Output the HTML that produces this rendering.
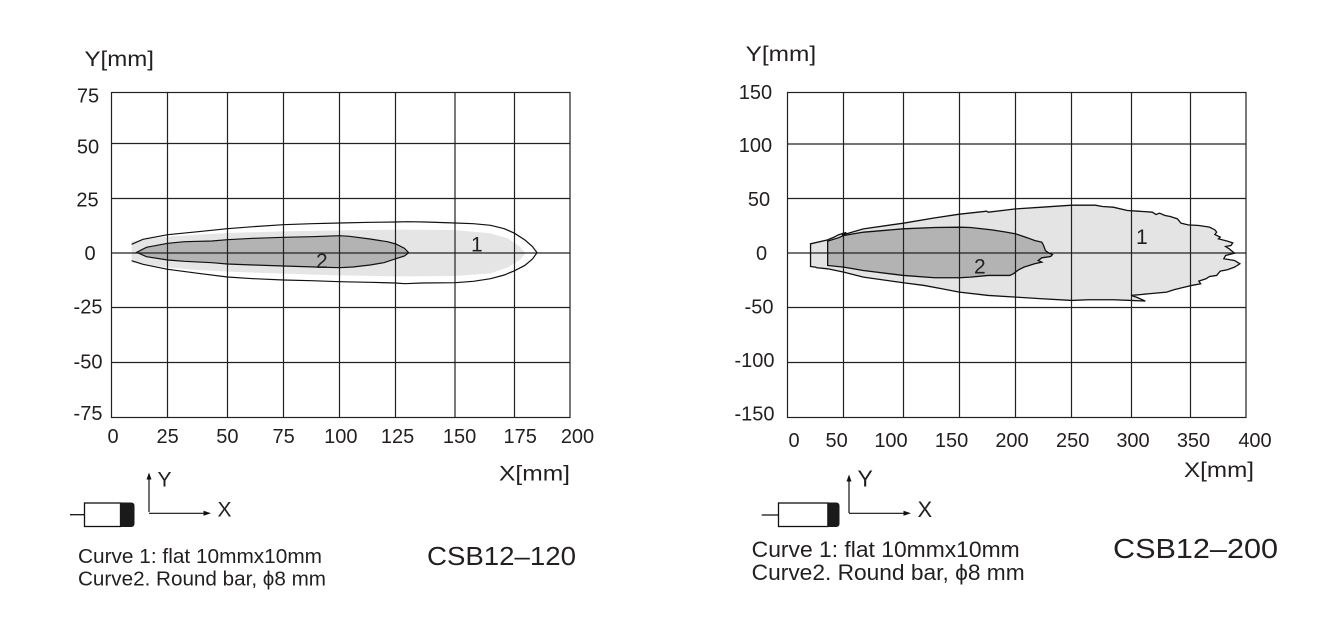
<!DOCTYPE html>
<html><head><meta charset="utf-8">
<style>
html,body{margin:0;padding:0;background:#fff;}
svg{display:block;}
text{font-family:"Liberation Sans",Arial,sans-serif;fill:#231f20;}
</style></head>
<body>
<svg width="1337" height="636" viewBox="0 0 1337 636" xmlns="http://www.w3.org/2000/svg">
<rect width="1337" height="636" fill="#fff"/>

<!-- ================= LEFT CHART ================= -->
<g transform="translate(60.4,40) scale(0.34412,0.33333)">
  <!-- light gray region -->
  <path d="M207,604 L260,596 L312,590 L400,584 L485,579 L648,574 L811,571 L974,569 L1147,570 L1250,580 L1300,595 L1335,620 L1352,640 L1335,660 L1300,682 L1250,700 L1147,708 L974,709 L811,706 L648,701 L485,695 L400,690 L312,682 L260,675 L207,668 Z" fill="#e5e5e5"/>
  <!-- dark region curve 2 -->
  <path d="M222,637 L250,622 L312,610 L360,605 L440,603 L485,599 L560,595 L648,592 L730,590 L811,587 L840,589 L900,597 L950,605 L975,612 L1000,625 L1012,638 L1000,648 L975,656 L940,668 L900,675 L850,681 L811,683 L740,681 L648,678 L560,675 L485,672 L440,668 L360,664 L312,660 L250,650 Z" fill="#b3b3b3"/>
</g>
<!-- left grid -->
<g stroke="#222" stroke-width="1.2" fill="none">
  <rect x="111.5" y="92.5" width="458.5" height="325"/>
  <line x1="167.5" y1="92.5" x2="167.5" y2="417.5"/>
  <line x1="227.5" y1="92.5" x2="227.5" y2="417.5"/>
  <line x1="283.5" y1="92.5" x2="283.5" y2="417.5"/>
  <line x1="339.5" y1="92.5" x2="339.5" y2="417.5"/>
  <line x1="395.5" y1="92.5" x2="395.5" y2="417.5"/>
  <line x1="455" y1="92.5" x2="455" y2="417.5"/>
  <line x1="514.5" y1="92.5" x2="514.5" y2="417.5"/>
  <line x1="111.5" y1="143.5" x2="570" y2="143.5"/>
  <line x1="111.5" y1="198.5" x2="570" y2="198.5"/>
  <line x1="111.5" y1="253" x2="570" y2="253"/>
  <line x1="111.5" y1="307.5" x2="570" y2="307.5"/>
  <line x1="111.5" y1="362.5" x2="570" y2="362.5"/>
</g>
<g transform="translate(60.4,40) scale(0.34412,0.33333)" fill="none" stroke="#111" stroke-width="1.2" vector-effect="non-scaling-stroke">
  <polyline vector-effect="non-scaling-stroke" points="207,613 240,598 312,584 400,575 485,566 560,560 648,554 730,551 811,549 900,547 974,546 1010,545 1060,546 1147,549 1200,551 1250,556 1290,566 1320,580 1350,600 1372,620 1385,638 1372,657 1350,676 1320,692 1290,705 1250,716 1200,724 1147,728 1050,729 1000,731 974,729 900,727 811,725 730,722 648,720 560,716 485,711 400,700 312,688 240,673 207,662"/>
  <path vector-effect="non-scaling-stroke" d="M222,637 L250,622 L312,610 L360,605 L440,603 L485,599 L560,595 L648,592 L730,590 L811,587 L840,589 L900,597 L950,605 L975,612 L1000,625 L1012,638 L1000,648 L975,656 L940,668 L900,675 L850,681 L811,683 L740,681 L648,678 L560,675 L485,672 L440,668 L360,664 L312,660 L250,650 Z"/>
</g>
<text x="471" y="251.7" font-size="21">1</text>
<text x="316" y="268" font-size="21">2</text>

<!-- left axis labels -->
<text x="84.5" y="66" font-size="21" textLength="69.5" lengthAdjust="spacingAndGlyphs">Y[mm]</text>
<g font-size="20" text-anchor="middle">
  <text x="88" y="102.7">75</text>
  <text x="88" y="153.3">50</text>
  <text x="87.5" y="206.7">25</text>
  <text x="90" y="260">0</text>
  <text x="88" y="313.3">-25</text>
  <text x="88" y="368.3">-50</text>
  <text x="88" y="420">-75</text>
  <text x="113" y="443">0</text>
  <text x="167.6" y="443">25</text>
  <text x="227.4" y="443">50</text>
  <text x="283.6" y="443">75</text>
  <text x="340.8" y="443">100</text>
  <text x="397.6" y="443">125</text>
  <text x="459.6" y="443">150</text>
  <text x="520.2" y="443">175</text>
  <text x="577.5" y="443">200</text>
</g>
<text x="499" y="480.3" font-size="21" textLength="71" lengthAdjust="spacingAndGlyphs">X[mm]</text>

<!-- left sensor & axes -->
<line x1="70" y1="514.7" x2="84" y2="514.7" stroke="#111" stroke-width="1.3"/>
<rect x="84.5" y="503" width="36" height="23.5" fill="#fff" stroke="#111" stroke-width="1.3"/>
<path d="M120,502.5 L131,502.5 Q134.5,502.5 134.5,506 L134.5,523.5 Q134.5,527 131,527 L120,527 Z" fill="#1a1a1a"/>
<line x1="149" y1="512" x2="149" y2="478" stroke="#111" stroke-width="1.2"/>
<polygon points="149,472.5 146.5,479.5 151.5,479.5" fill="#111"/>
<line x1="149" y1="513.3" x2="204" y2="513.3" stroke="#111" stroke-width="1.2"/>
<polygon points="211,513.3 203.5,510.8 203.5,515.8" fill="#111"/>
<text x="157.5" y="486.7" font-size="21">Y</text>
<text x="217.5" y="516.7" font-size="21">X</text>
<text x="78" y="563" font-size="20.5" textLength="244" lengthAdjust="spacingAndGlyphs">Curve 1: flat 10mmx10mm</text>
<text x="78" y="585.5" font-size="20.5" textLength="248" lengthAdjust="spacingAndGlyphs">Curve2. Round bar, ϕ8 mm</text>
<text x="427" y="565" font-size="25.5" textLength="149" lengthAdjust="spacingAndGlyphs">CSB12–120</text>

<!-- ================= RIGHT CHART ================= -->
<g transform="translate(720.6,30.7) scale(0.35689,0.333)">
  <path d="M252,640 L300,628 L318,620 L330,613 L345,608 L352,606 L340,614 L400,595 L512,578 L600,562 L669,551 L720,545 L745,542 L750,545 L827,535 L900,530 L984,524 L1050,524 L1070,528 L1100,530 L1140,540 L1170,542 L1210,545 L1220,552 L1230,548 L1245,555 L1260,558 L1280,565 L1290,578 L1310,583 L1340,585 L1370,590 L1385,598 L1390,605 L1385,612 L1400,620 L1395,625 L1420,632 L1435,637 L1430,645 L1415,648 L1425,655 L1440,668 L1415,675 L1410,685 L1440,690 L1455,700 L1440,710 L1420,718 L1400,722 L1390,735 L1370,738 L1360,745 L1340,752 L1345,760 L1320,765 L1300,770 L1270,778 L1250,785 L1200,790 L1150,795 L1165,800 L1190,812 L1150,810 L1100,808 L1030,808 L984,810 L900,805 L827,800 L750,795 L669,785 L620,775 L570,765 L512,757 L400,740 L345,725 L300,715 L270,712 L265,710 L252,708 Z" fill="#e4e4e4"/>
  <path d="M300,632 L330,622 L345,615 L400,605 L512,595 L600,591 L669,590 L700,591 L760,598 L800,605 L827,610 L860,622 L880,630 L900,635 L905,645 L910,660 L920,668 L930,672 L925,678 L900,682 L890,690 L900,695 L880,700 L850,710 L835,718 L820,730 L810,735 L750,735 L700,740 L669,742 L600,742 L512,735 L400,720 L345,710 L300,705 Z" fill="#b3b3b3"/>
</g>
<g stroke="#222" stroke-width="1.2" fill="none">
  <rect x="787.5" y="92.5" width="458.5" height="325"/>
  <line x1="843.5" y1="92.5" x2="843.5" y2="417.5"/>
  <line x1="903.5" y1="92.5" x2="903.5" y2="417.5"/>
  <line x1="959.5" y1="92.5" x2="959.5" y2="417.5"/>
  <line x1="1015.5" y1="92.5" x2="1015.5" y2="417.5"/>
  <line x1="1071.5" y1="92.5" x2="1071.5" y2="417.5"/>
  <line x1="1131.5" y1="92.5" x2="1131.5" y2="417.5"/>
  <line x1="1190.5" y1="92.5" x2="1190.5" y2="417.5"/>
  <line x1="787.5" y1="144" x2="1246" y2="144"/>
  <line x1="787.5" y1="198.5" x2="1246" y2="198.5"/>
  <line x1="787.5" y1="253" x2="1246" y2="253"/>
  <line x1="787.5" y1="307.5" x2="1246" y2="307.5"/>
  <line x1="787.5" y1="362.5" x2="1246" y2="362.5"/>
</g>
<g transform="translate(720.6,30.7) scale(0.35689,0.333)" fill="none" stroke="#111" stroke-width="1.3">
  <path vector-effect="non-scaling-stroke" d="M252,640 L300,628 L318,620 L330,613 L345,608 L352,606 L340,614 L400,595 L512,578 L600,562 L669,551 L720,545 L745,542 L750,545 L827,535 L900,530 L984,524 L1050,524 L1070,528 L1100,530 L1140,540 L1170,542 L1210,545 L1220,552 L1230,548 L1245,555 L1260,558 L1280,565 L1290,578 L1310,583 L1340,585 L1370,590 L1385,598 L1390,605 L1385,612 L1400,620 L1395,625 L1420,632 L1435,637 L1430,645 L1415,648 L1425,655 L1440,668 L1415,675 L1410,685 L1440,690 L1455,700 L1440,710 L1420,718 L1400,722 L1390,735 L1370,738 L1360,745 L1340,752 L1345,760 L1320,765 L1300,770 L1270,778 L1250,785 L1200,790 L1150,795 L1165,800 L1190,812 L1150,810 L1100,808 L1030,808 L984,810 L900,805 L827,800 L750,795 L669,785 L620,775 L570,765 L512,757 L400,740 L345,725 L300,715 L270,712 L265,710 L252,708 Z"/>
  <path vector-effect="non-scaling-stroke" d="M300,632 L330,622 L345,615 L400,605 L512,595 L600,591 L669,590 L700,591 L760,598 L800,605 L827,610 L860,622 L880,630 L900,635 L905,645 L910,660 L920,668 L930,672 L925,678 L900,682 L890,690 L900,695 L880,700 L850,710 L835,718 L820,730 L810,735 L750,735 L700,740 L669,742 L600,742 L512,735 L400,720 L345,710 L300,705 Z"/>
</g>
<text x="1136" y="244" font-size="21">1</text>
<text x="974" y="273.5" font-size="21">2</text>

<text x="745.6" y="61" font-size="21" textLength="70.6" lengthAdjust="spacingAndGlyphs">Y[mm]</text>
<g font-size="20" text-anchor="middle">
  <text x="755.4" y="99">150</text>
  <text x="755.4" y="152.2">100</text>
  <text x="759" y="206.2">50</text>
  <text x="761.6" y="259.8">0</text>
  <text x="759" y="313.7">-50</text>
  <text x="754.5" y="367">-100</text>
  <text x="754.5" y="420.3">-150</text>
  <text x="794" y="447">0</text>
  <text x="836.6" y="447">50</text>
  <text x="891" y="447">100</text>
  <text x="951.6" y="447">150</text>
  <text x="1012" y="447">200</text>
  <text x="1072.7" y="447">250</text>
  <text x="1133" y="447">300</text>
  <text x="1193.5" y="447">350</text>
  <text x="1255" y="447">400</text>
</g>
<text x="1184" y="477" font-size="21" textLength="70" lengthAdjust="spacingAndGlyphs">X[mm]</text>

<!-- right sensor & axes -->
<line x1="761.7" y1="515" x2="778.3" y2="515" stroke="#111" stroke-width="1.3"/>
<rect x="778.5" y="503" width="49.5" height="23.5" fill="#fff" stroke="#111" stroke-width="1.3"/>
<path d="M827.3,502.5 L836,502.5 Q839.5,502.5 839.5,506 L839.5,523.5 Q839.5,527 836,527 L827.3,527 Z" fill="#1a1a1a"/>
<line x1="849" y1="513" x2="849" y2="480" stroke="#111" stroke-width="1.2"/>
<polygon points="849,474.5 846.5,481.5 851.5,481.5" fill="#111"/>
<line x1="849" y1="513.3" x2="904" y2="513.3" stroke="#111" stroke-width="1.2"/>
<polygon points="911,513.3 903.5,510.8 903.5,515.8" fill="#111"/>
<text x="857.5" y="486.5" font-size="23">Y</text>
<text x="917.5" y="517" font-size="22">X</text>
<text x="751.7" y="557" font-size="22.5" textLength="268" lengthAdjust="spacingAndGlyphs">Curve 1: flat 10mmx10mm</text>
<text x="751.7" y="580" font-size="22.5" textLength="273" lengthAdjust="spacingAndGlyphs">Curve2. Round bar, ϕ8 mm</text>
<text x="1113" y="558" font-size="28" textLength="165" lengthAdjust="spacingAndGlyphs">CSB12–200</text>
</svg>
</body></html>
